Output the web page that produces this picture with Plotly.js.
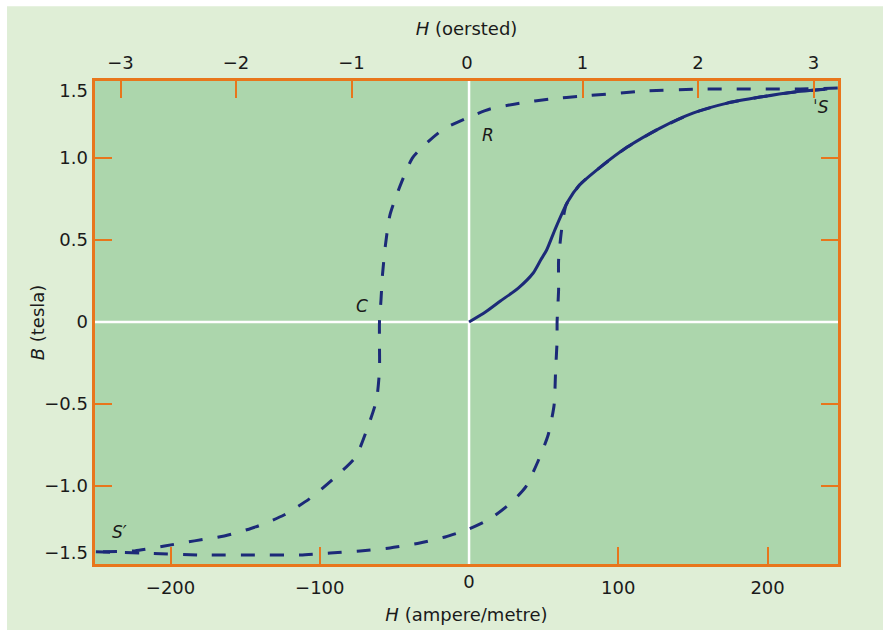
<!DOCTYPE html>
<html>
<head>
<meta charset="utf-8">
<script src="https://cdn.plot.ly/plotly-3.0.1.min.js"></script>
<style>html,body{margin:0;padding:0;background:#ffffff;}#chart{width:883px;height:630px;}</style>
</head>
<body>
<div id="chart"></div>
<script>
// Descending branch of the hysteresis loop (S -> R -> C -> S'), H in A/m, B in tesla
const upperH = [247, 222, 155, 119, 76, 54, 34, 14, 0, -17, -30, -38, -46, -53, -56, -58, -59, -60, -60, -60, -62, -68, -76, -91, -107, -124, -143, -164, -184, -204, -224, -250];
const upperB = [1.427, 1.421, 1.421, 1.409, 1.378, 1.360, 1.335, 1.299, 1.250, 1.177, 1.079, 1.000, 0.835, 0.652, 0.470, 0.287, 0.134, 0, -0.140, -0.293, -0.476, -0.646, -0.823, -0.957, -1.079, -1.177, -1.250, -1.305, -1.335, -1.366, -1.396, -1.402];
// Ascending branch (S' -> S)
const lowerH = [-250, -220, -180, -140, -113, -93, -73, -53, -33, -16, 0, 14, 28, 38, 46, 53, 57, 58, 59, 59, 60, 60, 62, 65, 74, 88, 106, 128, 150, 173, 195, 217, 240, 247];
const lowerB = [-1.402, -1.409, -1.421, -1.421, -1.421, -1.409, -1.396, -1.378, -1.348, -1.311, -1.262, -1.201, -1.104, -1.006, -0.854, -0.689, -0.506, -0.293, -0.110, 0, 0.195, 0.378, 0.561, 0.713, 0.835, 0.945, 1.067, 1.183, 1.274, 1.335, 1.372, 1.402, 1.421, 1.427];
// Initial magnetization curve (O -> S)
const initH = [0, 11, 21, 33, 43, 48, 52, 58, 66, 74, 88, 106, 128, 150, 173, 195, 217, 240];
const initB = [0, 0.061, 0.128, 0.207, 0.299, 0.378, 0.439, 0.573, 0.732, 0.835, 0.945, 1.067, 1.183, 1.274, 1.335, 1.372, 1.402, 1.421];

// Ticks (drawn marks) and tick labels
const amTickVals = [-200, -100, 100, 200];
const amTickText = ["−200", "−100", "100", "200"];
const amZeroVals = [0];
const amZeroText = ["0"];
const oeTickVals = [-3, -2, -1, 1, 2, 3];
const oeTickText = ["−3", "−2", "−1", "1", "2", "3"];
const oeZeroVals = [0];
const oeZeroText = ["0"];
const bTickVals = [-1, -0.5, 0.5, 1];
const bLabelVals = [-1.41, -1, -0.5, 0, 0.5, 1, 1.41];
const bLabelText = ["−1.5", "−1.0", "−0.5", "0", "0.5", "1.0", "1.5"];

// Point labels
const labelText = ["R", "C", "ˈS", "S′"];
const labelH = [13, -72, 236, -234];
const labelB = [1.14, 0.10, 1.31, -1.28];

const NAVY = "#1c2a78";
const ORANGE = "#e8761c";
const FONT = {family: "DejaVu Sans, sans-serif", size: 18, color: "#1a1a1a"};
const X_RANGE = [-250.6, 247.2];
const OE_RANGE = [-3.221, 3.212];
const Y_RANGE = [-1.476, 1.470];

const lineStyle = {color: NAVY, width: 3, shape: "spline", smoothing: 0.6};
const empty = (xa, ya) => ({x: [], y: [], xaxis: xa, yaxis: ya, type: "scatter", mode: "lines", showlegend: false, hoverinfo: "skip"});
const traces = [
  {x: upperH, y: upperB, type: "scatter", mode: "lines", line: Object.assign({dash: "14px,15px"}, lineStyle), hoverinfo: "skip", showlegend: false},
  {x: lowerH, y: lowerB, type: "scatter", mode: "lines", line: Object.assign({dash: "14px,15px"}, lineStyle), hoverinfo: "skip", showlegend: false},
  {x: initH, y: initB, type: "scatter", mode: "lines", line: lineStyle, hoverinfo: "skip", showlegend: false},
  empty("x2", "y"), empty("x3", "y"), empty("x4", "y"), empty("x", "y2")
];

const annotations = labelText.map((t, i) => ({
  x: labelH[i], y: labelB[i], xref: "x", yref: "y", text: t, showarrow: false,
  font: {family: "DejaVu Sans, sans-serif", size: 17, color: "#1a1a1a", style: "italic"}
}));

const tickStyle = {ticks: "inside", ticklen: 17, tickwidth: 2, tickcolor: ORANGE, showgrid: false, zeroline: false};
const labelOnly = {ticks: "", showline: false, showgrid: false, zeroline: false};

const layout = {
  width: 883, height: 630,
  margin: {l: 95, r: 45, t: 81, b: 66, pad: 0},
  paper_bgcolor: "#dfeed6",
  plot_bgcolor: "#acd6ac",
  font: FONT,
  showlegend: false,
  xaxis: Object.assign({}, tickStyle, {
    range: X_RANGE, tickvals: amTickVals, ticktext: amTickText,
    showline: true, linecolor: ORANGE, linewidth: 3, mirror: true,
    ticklabelstandoff: 5,
    title: {text: "<i>H</i> (ampere/metre)", font: FONT, standoff: 12}
  }),
  xaxis3: Object.assign({}, labelOnly, {
    overlaying: "x", side: "bottom", anchor: "y",
    range: X_RANGE, tickvals: amZeroVals, ticktext: amZeroText, ticklabelstandoff: 5
  }),
  xaxis2: Object.assign({}, tickStyle, {
    overlaying: "x", side: "top", anchor: "y",
    range: OE_RANGE, tickvals: oeTickVals, ticktext: oeTickText,
    showline: false, ticklabelstandoff: 7,
    title: {text: "<i>H</i> (oersted)", font: FONT, standoff: 12}
  }),
  xaxis4: Object.assign({}, labelOnly, {
    overlaying: "x", side: "top", anchor: "y",
    range: OE_RANGE, tickvals: oeZeroVals, ticktext: oeZeroText, ticklabelstandoff: 7
  }),
  yaxis: Object.assign({}, tickStyle, {
    range: Y_RANGE, tickvals: bTickVals, showticklabels: false,
    showline: true, linecolor: ORANGE, linewidth: 3, mirror: "ticks",
    title: {text: "<i>B</i> (tesla)", font: FONT, standoff: 43}
  }),
  yaxis2: Object.assign({}, labelOnly, {
    overlaying: "y", side: "left", anchor: "x",
    range: Y_RANGE, tickvals: bLabelVals, ticktext: bLabelText, ticklabelstandoff: 6
  }),
  annotations: annotations,
  shapes: [
    {type: "line", xref: "x", yref: "paper", x0: 0, x1: 0, y0: 0, y1: 1, line: {color: "#ffffff", width: 2.5}, layer: "below"},
    {type: "line", xref: "paper", yref: "y", x0: 0, x1: 1, y0: 0, y1: 0, line: {color: "#ffffff", width: 2.5}, layer: "below"},
    {type: "rect", xref: "paper", yref: "paper", x0: -0.2, x1: 1.2, y0: 1.155, y1: 1.2, fillcolor: "#ffffff", line: {width: 0}, layer: "above"},
    {type: "rect", xref: "paper", yref: "paper", x0: -0.2, x1: -0.1184, y0: -0.2, y1: 1.2, fillcolor: "#ffffff", line: {width: 0}, layer: "above"}
  ]
};

Plotly.newPlot("chart", traces, layout, {staticPlot: true, displayModeBar: false});
</script>
</body>
</html>
